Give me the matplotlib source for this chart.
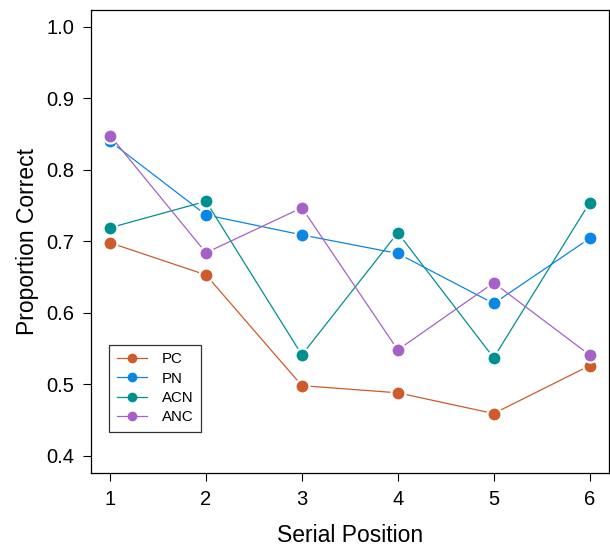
import matplotlib.pyplot as plt
import numpy as np

plt.rcParams['font.family'] = ['Liberation Sans', 'DejaVu Sans']

positions = [1, 2, 3, 4, 5, 6]
pc = [0.698, 0.653, 0.498, 0.488, 0.459, 0.526]
pn = [0.840, 0.737, 0.709, 0.683, 0.613, 0.704]
acn = [0.719, 0.756, 0.541, 0.712, 0.537, 0.754]
anc = [0.848, 0.684, 0.747, 0.548, 0.642, 0.541]

series = [('PC', pc, '#CD5B2B'), ('PN', pn, '#0A86E4'),
          ('ACN', acn, '#009090'), ('ANC', anc, '#A561C8')]

fig = plt.figure(figsize=(6.1, 5.46), dpi=100)
ax = fig.add_axes([0.149, 0.134, 0.849, 0.848])

for name, vals, col in series:
    ax.plot(positions, vals, '-', color=col, lw=0.9, marker='o', ms=9.5,
            mec='white', mew=2.2, label=name)
    # redraw markers without white halo so they look solid
    ax.plot(positions, vals, 'o', color=col, ms=8.5, mew=0)

ax.set_xlim(0.8, 6.2)
ax.set_ylim(0.376, 1.024)
ax.set_xticks(positions)
ax.set_yticks(np.arange(0.4, 1.01, 0.1))
ax.set_yticklabels(['0.4', '0.5', '0.6', '0.7', '0.8', '0.9', '1.0'])
ax.tick_params(direction='out', length=6, width=0.8, labelsize=14.5, pad=6)
for s in ax.spines.values():
    s.set_linewidth(0.9)

ax.set_xlabel('Serial Position', fontsize=16.5, labelpad=11)
ax.set_ylabel('Proportion Correct', fontsize=16.5, labelpad=5)

leg = ax.legend(loc='lower left', bbox_to_anchor=(0.035, 0.089), fontsize=10.8,
                frameon=True, fancybox=False, edgecolor='black',
                borderaxespad=0, handlelength=2.0, borderpad=0.5,
                labelspacing=0.35, handletextpad=1.0)
leg.get_frame().set_linewidth(0.9)
for h in leg.legend_handles:
    h.set_markeredgewidth(0)
    h.set_markersize(7)

fig.savefig('out.png', dpi=100)
